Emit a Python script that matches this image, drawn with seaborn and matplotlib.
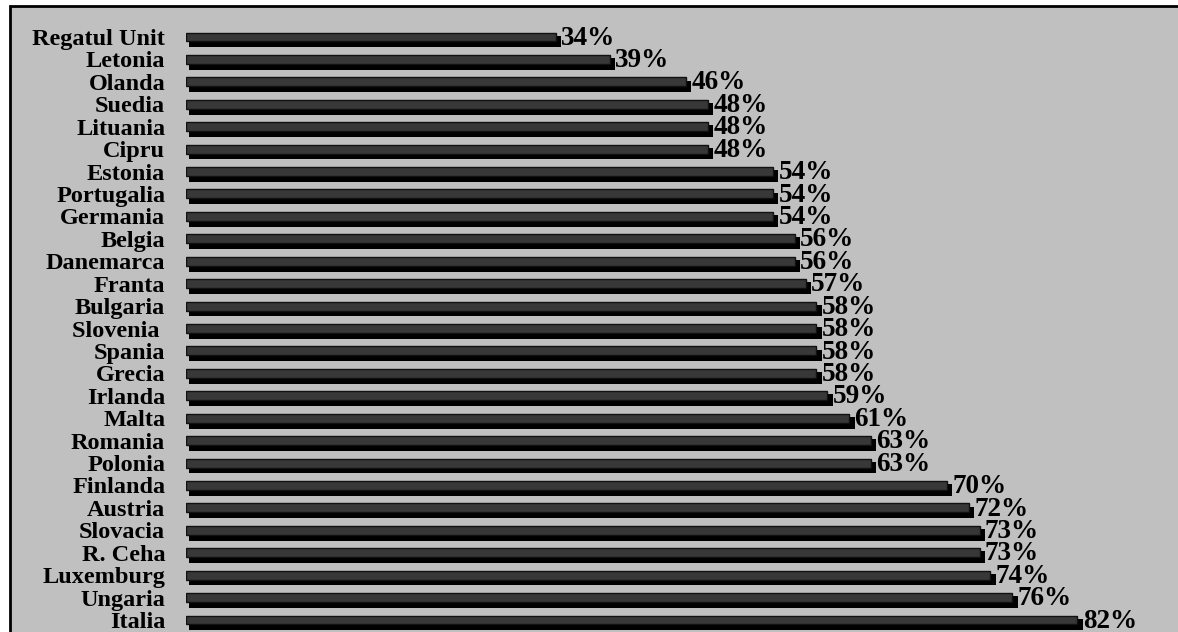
import pandas as pd
import matplotlib.pyplot as plt
import matplotlib.patches as patches
import seaborn as sns
import numpy as np

# Date
tari = ['Regatul Unit', 'Letonia', 'Olanda', 'Suedia', 'Lituania', 'Cipru',
        'Estonia', 'Portugalia', 'Germania', 'Belgia', 'Danemarca', 'Franta',
        'Bulgaria', 'Slovenia ', 'Spania', 'Grecia', 'Irlanda', 'Malta',
        'Romania', 'Polonia', 'Finlanda', 'Austria', 'Slovacia', 'R. Ceha',
        'Luxemburg', 'Ungaria', 'Italia']
procente = [34, 39, 46, 48, 48, 48, 54, 54, 54, 56, 56, 57, 58, 58, 58, 58,
            59, 61, 63, 63, 70, 72, 73, 73, 74, 76, 82]

df = pd.DataFrame({'tara': tari, 'procent': procente})

sns.set_style("white")
plt.rcParams['font.family'] = ['Liberation Serif', 'DejaVu Serif']

fig = plt.figure(figsize=(11.78, 6.32), dpi=100, facecolor='white')

# Chenar gri
fig.patches.append(patches.Rectangle((10 / 1178, -0.1), 1.2, 1.1 - 6 / 632,
                                     transform=fig.transFigure,
                                     facecolor='#c0c0c0', edgecolor='black',
                                     linewidth=2, zorder=0))

ax = fig.add_axes([186 / 1178, 0, 1 - 186 / 1178, 1])
ax.set_zorder(5)
ax.set_facecolor('none')

# Umbra barelor
poz = np.arange(len(tari))
ax.barh(poz + 0.2, df['procent'] + 0.2, left=0.3, height=0.52,
        color='black', linewidth=0, zorder=1)

sns.barplot(data=df, x='procent', y='tara', orient='h', color='#383838',
            edgecolor='#111111', linewidth=1, width=0.4, saturation=1,
            ax=ax, zorder=2)

for i, v in enumerate(procente):
    ax.text(v + 0.5, i + 0.05, f"{v}%", va='center', ha='left',
            fontsize=19.5, fontweight='bold', color='black')

ax.set_xlim(0, (1178 - 186) / 10.87)
ax.set_ylim(26 + 12 / 22.42, -37 / 22.42)
ax.set_xlabel('')
ax.set_ylabel('')
ax.set_xticks([])
ax.tick_params(axis='y', length=0, pad=15, labelcolor='black')
for lbl in ax.get_yticklabels():
    lbl.set_fontsize(17.5)
    lbl.set_fontweight('bold')
sns.despine(ax=ax, left=True, bottom=True)

plt.savefig('out.png', dpi=100, facecolor='white')
